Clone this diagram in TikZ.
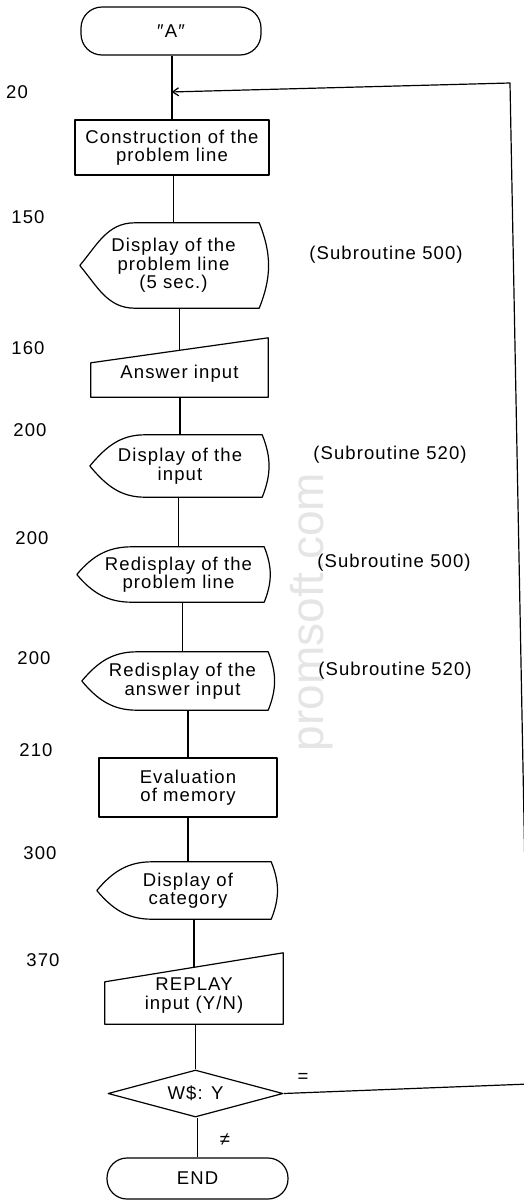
\documentclass[tikz,border=0pt]{standalone}
\usepackage{fontspec}
\setmainfont{Liberation Sans}[LetterSpace=6]
\newfontfamily\wmfont{Liberation Sans}
\usetikzlibrary{shapes.geometric,calc,arrows.meta}
\newcommand\dispoutline[2]{%
  \draw[flow] ($(#1.west)+(-#2,0)$) to[out=50,in=180] ($(#1.north west)+(55-#2,0)$)
    -- ($(#1.north east)+(-8,0)$) to[bend left=22] ($(#1.south east)+(-8,0)$)
    -- ($(#1.south west)+(55-#2,0)$) to[out=180,in=-50] ($(#1.west)+(-#2,0)$);}
\newcommand\manoutline[2]{%
  \draw[flow] (#1.south west) -- ($(#1.north west)+(0,-#2)$) -- ($(#1.north east)+(0,#2)$)
    -- (#1.south east) -- cycle;}
\newcommand\vlink[2]{\draw[flow] (#2.north |- #1.south) -- (#2.north);}
\tikzset{
  flow/.style={line width=1.2pt, line join=round},
  txt/.style={font=\fontsize{18.5}{18.5}\selectfont, align=center, inner sep=0pt},
  term/.style={txt, flow, draw, rounded corners=21pt},
  proc/.style={txt, flow, draw, rectangle},
  disp/.style={txt, rectangle},
  manin/.style={txt, rectangle},
  dec/.style={txt, flow, draw, diamond},
  lab/.style={txt},
  tip/.style={-{Straight Barb[length=6pt,width=8pt]}}
}
\begin{document}
\begin{tikzpicture}[x=1pt,y=1pt]
\fill[white] (0,0) rectangle (523,-1200);
\useasboundingbox (0,0) rectangle (523,-1200);
\node[rotate=90, text=black!10, font=\wmfont\fontsize{46}{46}\selectfont, inner sep=0pt] (wm) at (312,-612) {promsoft.com};

\node[term, minimum width=180pt, minimum height=48pt] (A) at (171,-31) {″A″};
\node[proc, minimum width=194pt, minimum height=55pt] (C1) at (172,-147.5) {Construction of the\\problem line};
\node[disp, minimum width=187pt, minimum height=85pt] (D1) at (173.5,-265.5) {Display of the\\problem line\\(5 sec.)};
\node[manin, minimum width=177pt, minimum height=46.5pt] (M1) at (179.5,-373.75) {Answer input};
\node[disp, minimum width=180pt, minimum height=62pt] (D2) at (180,-466) {Display of the\\input};
\node[disp, minimum width=187pt, minimum height=55pt] (D3) at (178.5,-574.5) {Redisplay of the\\problem line};
\node[disp, minimum width=187pt, minimum height=58pt] (D4) at (182.5,-681) {Redisplay of the\\answer input};
\node[proc, minimum width=178pt, minimum height=59pt] (C2) at (188,-787.5) {Evaluation\\of memory};
\node[disp, minimum width=182pt, minimum height=57pt] (D5) at (188,-890.5) {Display of\\category};
\node[manin, minimum width=178pt, minimum height=56.5pt] (M2) at (194,-995.75) {REPLAY\\input (Y/N)};
\node[dec, minimum width=175pt, minimum height=47pt, shape aspect=3.7] (W) at (195.5,-1093.5) {W\$: Y};
\node[term, minimum width=181pt, minimum height=41pt, rounded corners=20pt] (E) at (197.5,-1178.5) {END};

\dispoutline{D1}{0}
\dispoutline{D2}{0}
\dispoutline{D3}{8}
\dispoutline{D4}{7}
\dispoutline{D5}{0}
\manoutline{M1}{12.5}
\manoutline{M2}{14.5}

\node[lab] (n20) at (17,-92) {20};
\node[lab] (n150) at (28,-217) {150};
\node[lab] (n160) at (28,-348) {160};
\node[lab] (n200a) at (30,-430) {200};
\node[lab] (n200b) at (32,-538) {200};
\node[lab] (n200c) at (34,-658) {200};
\node[lab] (n210) at (36,-750) {210};
\node[lab] (n300) at (40,-853) {300};
\node[lab] (n370) at (43,-960) {370};

\node[lab] (s1) at (386,-255) {(Subroutine 500)};
\node[lab] (s2) at (390,-455) {(Subroutine 520)};
\node[lab] (s3) at (394,-563) {(Subroutine 500)};
\node[lab] (s4) at (395,-671) {(Subroutine 520)};

\node[lab] (eq) at (303,-1078) {=};
\node[lab] (ne) at (225,-1140) {≠};

\coordinate (j) at ($(A.south)!0.57!(C1.north)$);
\coordinate (br) at (529,-1084);
\coordinate (tr) at (510,-83);

\vlink{A}{C1}
\vlink{C1}{D1}
\vlink{D1}{M1}
\vlink{M1}{D2}
\vlink{D2}{D3}
\vlink{D3}{D4}
\vlink{D4}{C2}
\vlink{C2}{D5}
\vlink{D5}{M2}
\vlink{M2}{W}
\vlink{W}{E}
\draw[flow, tip] (W.east) -- (br) -- (tr) -- (j);
\end{tikzpicture}
\end{document}
